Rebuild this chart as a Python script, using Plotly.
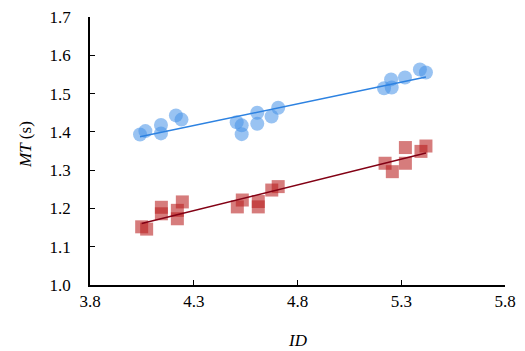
import numpy as np
import plotly.graph_objects as go

# Data
blue_id = [4.041, 4.067, 4.142, 4.142, 4.214, 4.241, 4.507, 4.531, 4.531, 4.606,
           4.606, 4.675, 4.707, 5.217, 5.251, 5.254, 5.318, 5.390, 5.419]
blue_mt = [1.393, 1.402, 1.418, 1.396, 1.443, 1.432, 1.425, 1.417, 1.394, 1.450,
           1.421, 1.440, 1.463, 1.514, 1.537, 1.516, 1.542, 1.563, 1.555]

red_id = [4.049, 4.073, 4.144, 4.144, 4.221, 4.221, 4.245, 4.510, 4.534, 4.611,
          4.611, 4.676, 4.707, 5.222, 5.257, 5.320, 5.320, 5.395, 5.419]
red_mt = [1.152, 1.146, 1.203, 1.186, 1.195, 1.173, 1.217, 1.204, 1.222, 1.218,
          1.204, 1.248, 1.257, 1.318, 1.296, 1.359, 1.318, 1.349, 1.363]

x_ticks = [3.8, 4.3, 4.8, 5.3, 5.8]
y_ticks = [1.0, 1.1, 1.2, 1.3, 1.4, 1.5, 1.6, 1.7]


def fit(xs, ys):
    k, b = np.polyfit(xs, ys, 1)
    xx = np.array([min(xs), max(xs)])
    return xx, k * xx + b


fig = go.Figure()

fig.add_trace(go.Scatter(
    x=blue_id, y=blue_mt, mode="markers",
    marker=dict(symbol="circle", size=14, color="rgba(70,145,232,0.55)",
                line=dict(width=0)),
    showlegend=False))
fig.add_trace(go.Scatter(
    x=red_id, y=red_mt, mode="markers",
    marker=dict(symbol="square", size=13, color="rgba(185,30,30,0.58)",
                line=dict(width=0)),
    showlegend=False))

bx, by = fit(blue_id, blue_mt)
rx, ry = fit(red_id, red_mt)
fig.add_trace(go.Scatter(x=bx, y=by, mode="lines",
                         line=dict(color="rgb(45,130,225)", width=1.5),
                         showlegend=False))
fig.add_trace(go.Scatter(x=rx, y=ry, mode="lines",
                         line=dict(color="rgb(130,0,20)", width=1.5),
                         showlegend=False))

font = dict(family="Liberation Serif", size=17, color="black")

fig.update_layout(
    width=525, height=351,
    margin=dict(l=90, r=20, t=17, b=66, autoexpand=False),
    paper_bgcolor="white", plot_bgcolor="white",
    font=font,
    xaxis=dict(
        range=[3.8, 5.8], tickvals=x_ticks, ticktext=[f"{v:.1f}" for v in x_ticks],
        showgrid=False, zeroline=False, showline=True, linecolor="black", linewidth=1.5,
        ticks="inside", ticklen=5, tickwidth=1.3, tickcolor="black",
        automargin=False,
    ),
    yaxis=dict(
        range=[1.0, 1.7], tickvals=y_ticks, ticktext=[f"{v:.1f}" for v in y_ticks],
        showgrid=False, zeroline=False, showline=True, linecolor="black", linewidth=1.5,
        ticks="inside", ticklen=5, tickwidth=1.3, tickcolor="black",
        ticklabelstandoff=14, automargin=False,
    ),
    annotations=[
        dict(text="<i>ID</i>", xref="paper", yref="paper", x=0.5, y=0,
             xanchor="center", yanchor="middle", yshift=-55, showarrow=False, font=font),
        dict(text="<i>MT</i> (s)", xref="paper", yref="paper", x=0, y=0.5,
             xanchor="center", yanchor="middle", xshift=-65, yshift=6,
             textangle=-90, showarrow=False, font=font),
    ],
)

fig.write_html("out.html")
